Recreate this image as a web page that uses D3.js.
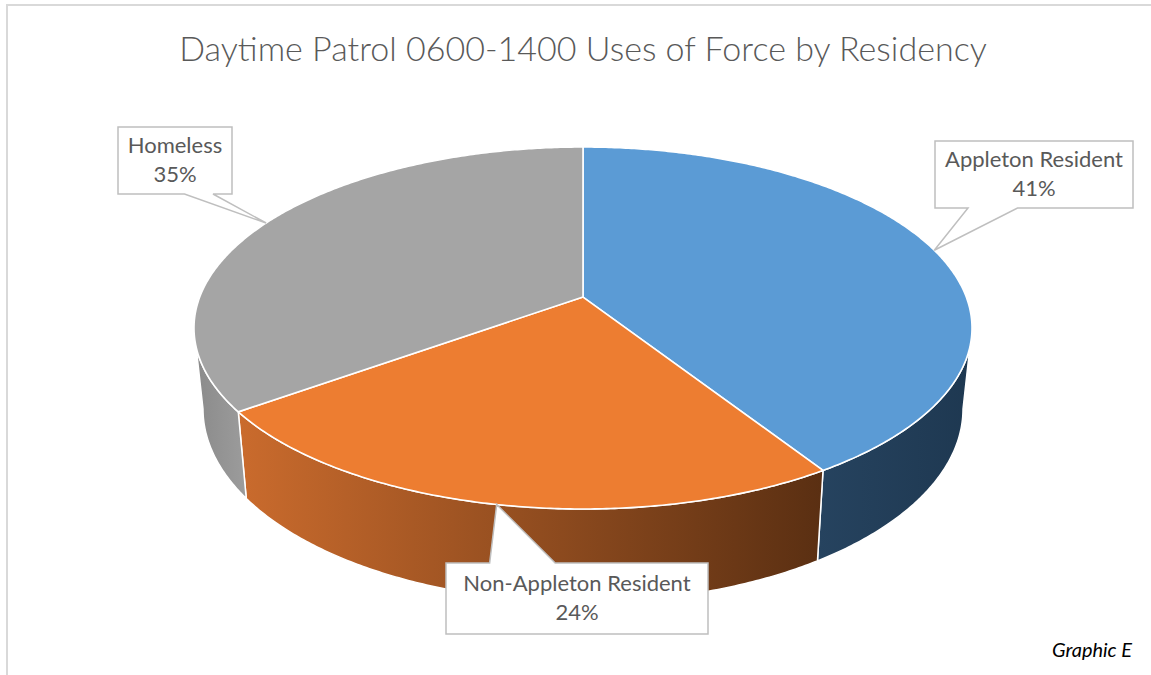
<!DOCTYPE html>
<html>
<head>
<meta charset="utf-8">
<script src="https://cdn.jsdelivr.net/npm/d3@7"></script>
<style>
  html, body { margin: 0; padding: 0; background: #ffffff; }
  svg { display: block; }
</style>
</head>
<body>
<svg id="chart" width="1151" height="675"></svg>
<script>
// ---- data ----
const categories = ["Appleton Resident", "Non-Appleton Resident", "Homeless"];
const shares = [41, 24, 35];
const percentLabels = ["41%", "24%", "35%"];
const chartTitle = "Daytime Patrol 0600-1400 Uses of Force by Residency";
const footnote = "Graphic E";

// ---- styles ----
const topColors = ["#5B9BD5", "#ED7D31", "#A5A5A5"];
// side wall shading: [left colour, right colour]
const sideShades = [["#26435F", "#1E3851"], ["#CA6B2D", "#5A2F12"], ["#8A8A8A", "#9C9C9C"]];
const textColor = "#595959";
const fontFamily = "Lato, 'Open Sans', 'Liberation Sans', sans-serif";

// ---- layout ----
const W = 1151, H = 675;
const topFace = { cx: 583, cy: 328, rx: 389, ry: 181 };
const bottomFace = { cx: 583, cy: 409, rx: 380, ry: 193 };
const tilt = -0.171;   // perspective shift of the pie centre toward the back
// callout boxes: x, y, width, height (same order as categories)
const calloutBoxes = [[935, 141, 198, 67], [446, 563, 262, 71], [118, 127, 114, 67]];

const svg = d3.select("#chart");

// chart frame
svg.append("rect")
  .attr("x", 7).attr("y", 5).attr("width", W + 20).attr("height", H + 20)
  .attr("fill", "#ffffff").attr("stroke", "#D9D9D9").attr("stroke-width", 2);

// Projects an angle on the pie rim (clockwise from 12 o'clock) to screen
// coordinates, using a projective map of the circle so that the centre
// lands above the middle of the ellipse.
const k = Math.sqrt(1 - tilt * tilt);
function project(theta, face) {
  const s = Math.sin(theta), v = -Math.cos(theta);
  const d = 1 + tilt * v;
  const u2 = s * k / d, v2 = (v + tilt) / d;
  return [face.cx + face.rx * u2, face.cy + face.ry * v2];
}
const apex = [topFace.cx, topFace.cy + topFace.ry * tilt];

function arcPoints(a0, a1, face) {
  const n = Math.max(2, Math.ceil(Math.abs(a1 - a0) / (Math.PI / 360)));
  return d3.range(n + 1).map(i => project(a0 + (a1 - a0) * i / n, face));
}

const pie = d3.pie().sort(null).value(d => d).startAngle(0).endAngle(2 * Math.PI);
const arcs = pie(shares);

// visible part of the wall lies between the two silhouette angles
const silA = Math.acos(tilt);                 // right-hand silhouette
const silB = 2 * Math.PI - Math.acos(tilt);   // left-hand silhouette

const defs = svg.append("defs");
sideShades.forEach((c, i) => {
  const g = defs.append("linearGradient").attr("id", "side" + i)
    .attr("x1", 0).attr("x2", 1).attr("y1", 0).attr("y2", 0);
  g.append("stop").attr("offset", 0).attr("stop-color", c[0]);
  g.append("stop").attr("offset", 1).attr("stop-color", c[1]);
});

const line = d3.line();

// side walls
const walls = svg.append("g");
arcs.forEach((a, i) => {
  const s0 = Math.max(a.startAngle, silA), s1 = Math.min(a.endAngle, silB);
  if (s1 <= s0) return;
  const pts = arcPoints(s0, s1, topFace).concat(arcPoints(s1, s0, bottomFace));
  walls.append("path")
    .attr("d", line(pts) + "Z")
    .attr("fill", `url(#side${i})`)
    .attr("stroke", "#ffffff").attr("stroke-width", 1.5).attr("stroke-linejoin", "round");
});

// top faces
const tops = svg.append("g");
arcs.forEach((a, i) => {
  const pts = [apex].concat(arcPoints(a.startAngle, a.endAngle, topFace));
  tops.append("path")
    .attr("d", line(pts) + "Z")
    .attr("fill", topColors[i])
    .attr("stroke", "#ffffff").attr("stroke-width", 1.6).attr("stroke-linejoin", "round");
});

// title, sized to its line width
const title = svg.append("text")
  .attr("x", 583).attr("y", 61)
  .attr("text-anchor", "middle")
  .attr("font-family", fontFamily).attr("font-weight", 300)
  .attr("font-size", 30).attr("fill", textColor)
  .text(chartTitle);
title.attr("font-size", 30 * 808 / title.node().getComputedTextLength());

// callouts
const labelSize = (() => {
  const probe = svg.append("text").attr("font-family", fontFamily).attr("font-size", 20).text(categories[0]);
  const w = probe.node().getComputedTextLength();
  probe.remove();
  return 20 * 178 / w;
})();

arcs.forEach((a, i) => {
  const [bx, by, bw, bh] = calloutBoxes[i];
  const tip = project((a.startAngle + a.endAngle) / 2, topFace);
  const g = svg.append("g");
  let d;
  const tipBelow = tip[1] > by + bh;
  const tipLeft = tip[0] < bx + bw / 2;
  // pointer base sits on the edge facing the tip, on the tip's side
  const b0 = tipLeft ? bx + bw / 6 : bx + bw * 7 / 12;
  const b1 = tipLeft ? bx + bw * 5 / 12 : bx + bw * 5 / 6;
  if (tipBelow) {
    d = `M${bx},${by}H${bx + bw}V${by + bh}H${b1}L${tip[0]},${tip[1]}L${b0},${by + bh}H${bx}Z`;
  } else {
    d = `M${bx},${by}H${b0}L${tip[0]},${tip[1]}L${b1},${by}H${bx + bw}V${by + bh}H${bx}Z`;
  }
  g.append("path").attr("d", d)
    .attr("fill", "#ffffff").attr("stroke", "#BFBFBF").attr("stroke-width", 1.5);
  const cx = bx + bw / 2, cy = by + bh / 2;
  g.append("text").attr("x", cx).attr("y", cy - 8)
    .attr("text-anchor", "middle").attr("font-family", fontFamily)
    .attr("font-size", labelSize).attr("fill", textColor).text(categories[i]);
  g.append("text").attr("x", cx).attr("y", cy + 21)
    .attr("text-anchor", "middle").attr("font-family", fontFamily)
    .attr("font-size", labelSize).attr("fill", textColor).text(percentLabels[i]);
});

// footnote, sized to its line width
const foot = svg.append("text")
  .attr("x", 1132).attr("y", 657)
  .attr("text-anchor", "end")
  .attr("font-family", fontFamily).attr("font-style", "italic")
  .attr("font-size", 17).attr("fill", "#000000")
  .text(footnote);
foot.attr("font-size", 17 * 80 / foot.node().getComputedTextLength());
</script>
</body>
</html>
